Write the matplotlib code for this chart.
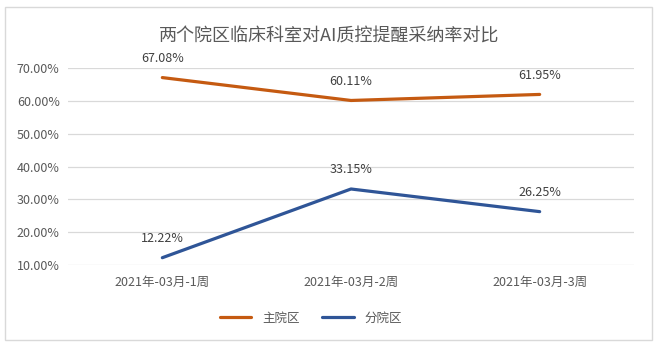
import matplotlib
matplotlib.use('Agg')
import matplotlib.pyplot as plt
from matplotlib.patches import Rectangle
from matplotlib.ticker import FuncFormatter

plt.rcParams['font.family'] = ['Noto Sans CJK SC', 'DejaVu Sans']

#~ data
weeks = ['2021年-03月-1周', '2021年-03月-2周', '2021年-03月-3周']
main_rate = [67.08, 60.11, 61.95]
branch_rate = [12.22, 33.15, 26.25]
series_names = ['主院区', '分院区']
title = '两个院区临床科室对AI质控提醒采纳率对比'

orange = '#C55A11'
blue = '#2F5597'
txt = '#595959'

fig = plt.figure(figsize=(6.59, 3.47), dpi=100)
fig.patch.set_facecolor('white')
fig.patches.append(Rectangle((5/659, 1-340/347), 647/659, 333/347, transform=fig.transFigure,
                             fill=False, edgecolor='#D9D9D9', linewidth=1))

ax = fig.add_axes([68/659, 1-265/347, 566/659, 197/347])
x = list(range(len(weeks)))
ax.plot(x, main_rate, color=orange, lw=2.3, solid_capstyle='round', label=series_names[0])
ax.plot(x, branch_rate, color=blue, lw=2.3, solid_capstyle='round', label=series_names[1])

for xi, v in zip(x, main_rate):
    ax.annotate('%.2f%%' % v, (xi, v), xytext=(0, 9), textcoords='offset points',
                ha='center', va='bottom', fontsize=9, color='#404040')
for xi, v in zip(x, branch_rate):
    ax.annotate('%.2f%%' % v, (xi, v), xytext=(0, 9), textcoords='offset points',
                ha='center', va='bottom', fontsize=9, color='#404040')

ax.set_xlim(-0.5, 2.5)
ax.set_ylim(10, 70)
ax.set_yticks(range(10, 71, 10))
ax.yaxis.set_major_formatter(FuncFormatter(lambda v, p: '%.2f%%' % v))
ax.set_xticks(x)
ax.set_xticklabels(weeks)
ax.tick_params(length=0, labelsize=9, colors=txt)
ax.tick_params(axis='x', pad=8)
ax.tick_params(axis='y', pad=6)
ax.grid(axis='y', color='#D9D9D9', lw=0.9)
ax.set_axisbelow(True)
for s in ax.spines.values():
    s.set_visible(False)

fig.text(0.5, 1-37/347, title, ha='center', va='center', fontsize=13, color=txt)
fig.legend(loc='center', bbox_to_anchor=(311/659, 1-318/347), ncol=2, frameon=False,
           fontsize=9, labelcolor=txt, handlelength=2.5, handletextpad=0.9, columnspacing=1.8)

fig.savefig('out.png', dpi=100, facecolor='white')
